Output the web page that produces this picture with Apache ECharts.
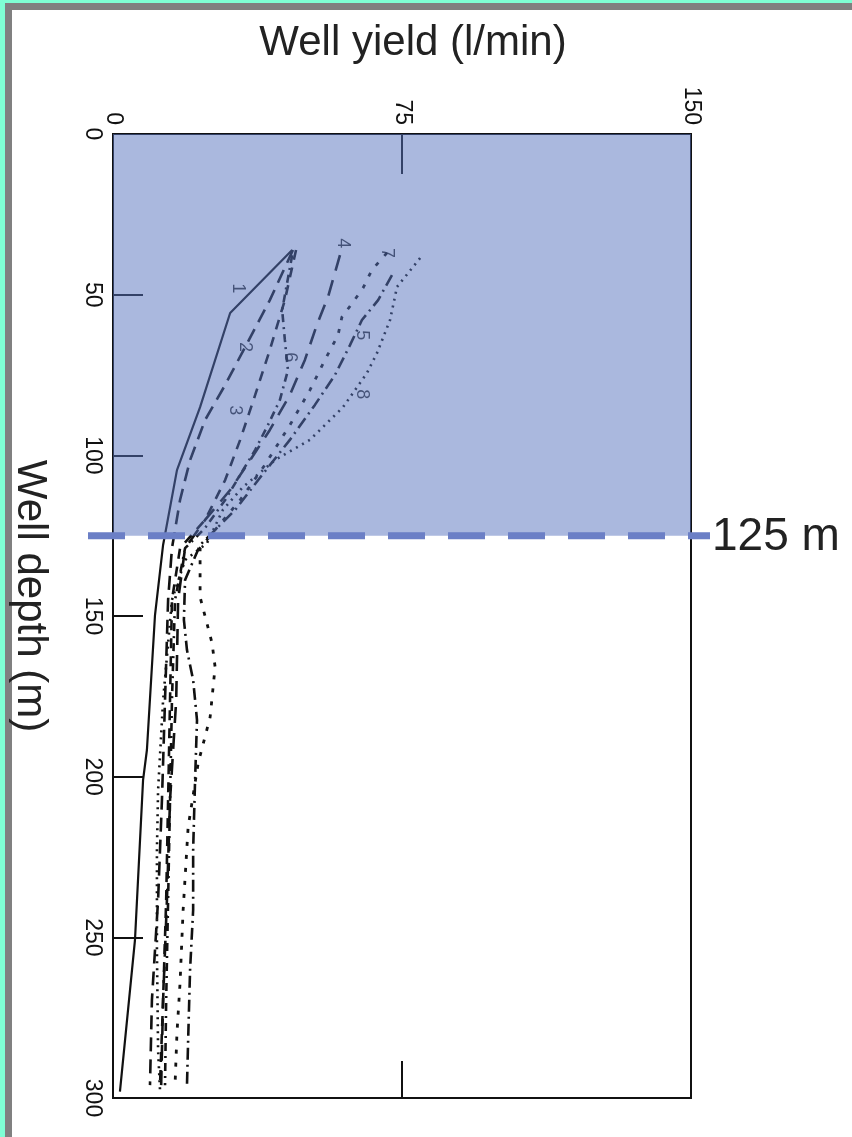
<!DOCTYPE html>
<html>
<head>
<meta charset="utf-8">
<script src="https://cdn.jsdelivr.net/npm/echarts@6/dist/echarts.min.js"></script>
<style>
  html, body { margin: 0; padding: 0; background: #7fffd4; width: 852px; height: 1137px; overflow: hidden; }
  #frame { position: absolute; left: 5px; top: 3px; width: 900px; height: 1200px; background: #ffffff; border: 7px solid #808080; }
  #chart { position: absolute; left: 0; top: 0; width: 852px; height: 1137px; }
</style>
</head>
<body>
<div id="frame"></div>
<div id="chart"></div>
<script>
// ---- data: [yield (l/min), depth (m)] ----
const yieldTicks = [0, 75, 150];
const depthTicks = [0, 50, 100, 150, 200, 250, 300];
const refDepth = 125;
const refLabel = '125 m';

const curve1 = [[46.5,36.1],[30.4,55.7],[22.6,85.0],[16.6,104.6],[13.0,127.9],[10.9,149.7],[8.8,191.7],[7.8,201.1],[5.7,250.9],[1.8,298]];
const curve2 = [[46.7,36.1],[40.7,51.7],[34.3,66.3],[29.1,78.1],[23.9,89.0],[20.0,101.5],[17.4,113.9],[15.3,128.9],[14.3,145.0],[13.5,176.2],[12.7,207.3],[11.7,238.4],[10.1,269.5],[9.6,296.0]];
const curve3 = [[47.5,36.1],[44.6,51.7],[40.7,67.2],[36.9,81.2],[33.0,95.2],[29.1,107.7],[23.9,120.1],[17.4,128.9],[15.3,145.0],[14.8,176.2],[14.3,207.3],[13.8,238.4],[13.0,269.5],[12.2,296.0]];
const curve4 = [[58.9,37.7],[55.8,50.7],[52.9,59.4],[49.8,70.3],[45.9,81.2],[40.7,92.1],[35.6,101.5],[30.4,110.8],[23.9,120.1],[18.7,128.9],[16.9,145.0],[16.4,176.2],[14.8,207.3],[14.0,238.4],[13.0,269.5],[12.5,296.0]];
const curve5 = [[72.4,43.9],[68.8,51.7],[64.6,57.9],[61.5,65.7],[57.6,75.0],[52.4,84.3],[45.9,95.2],[38.7,106.1],[31.7,117.0],[22.6,127.9],[18.7,138.8],[18.4,151.2],[19.2,160.6],[20.8,169.9],[21.8,182.4],[21.3,201.1],[20.8,222.8],[20.8,241.5],[20.0,260.2],[19.5,282.0],[19.2,296.0]];
const curve6 = [[46.5,37.7],[43.9,54.8],[44.6,64.1],[45.4,73.5],[43.3,82.8],[40.2,90.6],[36.9,98.3],[33.0,106.1],[29.1,113.9],[23.9,122.6],[18.7,128.9],[16.1,145.0],[15.3,176.2],[14.8,207.3],[14.3,238.4],[13.8,269.5],[13.5,296.0]];
const curve7 = [[71.1,37.0],[67.2,42.3],[64.9,47.9],[62.3,52.3],[59.4,57.0],[58.4,62.6],[55.0,70.3],[51.1,79.7],[45.9,90.6],[39.4,103.0],[33.0,113.9],[26.5,123.2],[22.6,128.9],[22.6,144.1],[25.7,158.4],[26.5,165.9],[25.2,181.5],[22.1,195.8],[19.5,215.7],[18.2,241.5],[17.4,264.2],[16.6,279.8],[16.1,296.0]];
const curve8 = [[79.7,38.6],[73.7,47.6],[71.9,57.9],[68.5,68.2],[65.9,74.4],[59.7,85.0],[51.1,95.2],[42.0,101.5],[33.7,109.9],[28.5,117.0],[24.4,127.3],[18.7,132.6],[15.3,145.0],[13.0,176.2],[11.7,204.2],[11.4,222.8],[11.4,254.0],[11.7,285.1],[12.2,297.5]];

const curveNames = ['1','2','3','4','5','6','7','8'];
const curveLabels = [[32.5,48.0,'1'],[34.3,66.3,'2'],[31.7,86.0,'3'],[59.8,34.0,'4'],[64.7,62.6,'5'],[46.0,69.5,'6'],[71.1,37.0,'7'],[64.7,81.0,'8']];

// ---- styles ----
const curves = [curve1, curve2, curve3, curve4, curve5, curve6, curve7, curve8];
const dashes = ['solid', [14,8], [10,8], [16,10], [12,5,2,5], [8,5,2,5], [4,9], [2,5]];
const widths = [2.2, 2.6, 2.6, 2.6, 2.6, 2.6, 2.8, 2.6];

const chart = echarts.init(document.getElementById('chart'), null, {renderer: 'canvas'});
const FONT = '"Liberation Sans", Arial, Helvetica, sans-serif';

const series = curves.map((c, i) => ({
  name: curveNames[i],
  type: 'line',
  xAxisIndex: 0,
  yAxisIndex: 0,
  data: c,
  showSymbol: false,
  symbol: 'none',
  silent: true,
  lineStyle: { color: '#111', width: widths[i], type: dashes[i] },
  z: 2
}));

// shaded overlay (drawn above the curves, semi transparent)
series[0].markArea = {
  silent: true,
  z: 10,
  itemStyle: { color: 'rgba(86,114,190,0.5)' },
  data: [[{ yAxis: 0 }, { yAxis: refDepth }]]
};

series.push({
  type: 'scatter',
  xAxisIndex: 0,
  yAxisIndex: 0,
  data: curveLabels,
  symbolSize: 0,
  silent: true,
  z: 3,
  label: {
    show: true,
    position: 'inside',
    rotate: -90,
    formatter: p => p.value[2],
    fontFamily: FONT,
    fontSize: 18,
    color: '#000'
  }
});

series.push({
  type: 'custom',
  xAxisIndex: 0,
  yAxisIndex: 0,
  data: [[0, refDepth]],
  silent: true,
  z: 20,
  clip: false,
  renderItem: function (params, api) {
    const y = api.coord([0, api.value(1)])[1];
    const cs = params.coordSys;
    return {
      type: 'group',
      children: [
        { type: 'line', shape: { x1: cs.x - 25, y1: y, x2: cs.x + cs.width + 19, y2: y },
          style: { stroke: '#6b7fc6', lineWidth: 7, lineDash: [37, 23] } },
        { type: 'text', style: { text: refLabel, x: cs.x + cs.width + 21, y: y + 2,
          verticalAlign: 'middle', align: 'left', fill: '#222',
          font: '46px ' + FONT } }
      ]
    };
  }
});

chart.setOption({
  animation: false,
  grid: { left: 113, top: 134, right: 161, bottom: 39, show: true, borderColor: '#111', borderWidth: 2, backgroundColor: 'transparent' },
  xAxis: [
    {
      type: 'value', position: 'top', min: yieldTicks[0], max: yieldTicks[yieldTicks.length - 1], interval: 75,
      name: 'Well yield (l/min)', nameLocation: 'middle', nameGap: 70,
      nameTextStyle: { fontFamily: FONT, fontSize: 42, color: '#222', padding: [0, 0, 0, 22] },
      axisLine: { show: false },
      splitLine: { show: false },
      axisTick: { show: true, inside: true, length: 40, lineStyle: { color: '#111', width: 2 } },
      axisLabel: { show: true, rotate: -90, margin: 9, fontFamily: FONT, fontSize: 23, color: '#111' }
    },
    {
      type: 'value', position: 'bottom', min: yieldTicks[0], max: yieldTicks[yieldTicks.length - 1], interval: 75,
      axisLine: { show: false },
      splitLine: { show: false },
      axisTick: { show: true, inside: true, length: 37, lineStyle: { color: '#111', width: 2 } },
      axisLabel: { show: false }
    }
  ],
  yAxis: {
    type: 'value', inverse: true, min: depthTicks[0], max: depthTicks[depthTicks.length - 1], interval: 50,
    name: 'Well depth (m)', nameLocation: 'middle', nameGap: 62, nameRotate: -90,
    nameTextStyle: { fontFamily: FONT, fontSize: 42, color: '#222', padding: [0, 40, 0, 0] },
    axisLine: { show: false },
    splitLine: { show: false },
    axisTick: { show: true, inside: true, length: 30, lineStyle: { color: '#111', width: 2 } },
    axisLabel: { show: true, rotate: -90, margin: 9, fontFamily: FONT, fontSize: 23, color: '#111' }
  },
  series: series
});
</script>
</body>
</html>
